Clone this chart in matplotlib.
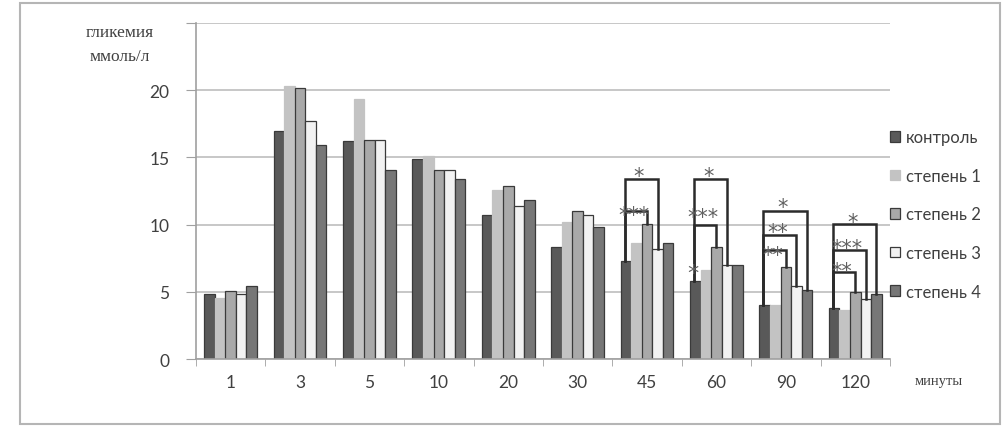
import numpy as np
import matplotlib
matplotlib.use("Agg")
import matplotlib.pyplot as plt
from matplotlib.patches import Rectangle

# time points, minutes
categories = ["1", "3", "5", "10", "20", "30", "45", "60", "90", "120"]
series_names = ["контроль", "степень 1", "степень 2", "степень 3", "степень 4"]

control = [4.8, 17.0, 16.2, 14.9, 10.7, 8.3, 7.3, 5.8, 4.0, 3.8]
stage1 = [4.55, 20.3, 19.35, 15.1, 12.6, 10.2, 8.6, 6.65, 4.0, 3.65]
stage2 = [5.05, 20.15, 16.3, 14.1, 12.9, 11.0, 10.05, 8.35, 6.85, 4.95]
stage3 = [4.8, 17.7, 16.3, 14.1, 11.4, 10.7, 8.15, 7.0, 5.45, 4.45]
stage4 = [5.4, 15.95, 14.1, 13.4, 11.8, 9.8, 8.6, 7.0, 5.15, 4.8]

# significance brackets: (group, target series, bracket height, label, label lift)
brackets = [
    (6, 3, 13.4, "*", 0.65),
    (6, 2, 11.0, "***", 0.2),
    (7, 3, 13.4, "*", 0.65),
    (7, 2, 10.0, "***", 1.0),
    (8, 4, 11.0, "*", 0.8),
    (8, 3, 9.25, "**", 0.7),
    (8, 2, 8.1, "**", 0.1),
    (9, 4, 10.05, "*", 0.6),
    (9, 3, 8.1, "***", 0.65),
    (9, 2, 6.5, "**", 0.5),
]
# lone star over the control bar at 60 min
lone_star = (7, 0, 6.9)

data = [control, stage1, stage2, stage3, stage4]
fills = ["#595959", "#c3c3c3", "#a9a9a9", "#f2f2f2", "#777777"]
edges = ["#3a3a3a", "#c3c3c3", "#3a3a3a", "#3a3a3a", "#3a3a3a"]

plt.rcParams["font.family"] = ["Lato", "DejaVu Sans"]

fig = plt.figure(figsize=(10.05, 4.35), dpi=100)
fig.patches.append(Rectangle((0.02, 0.023), 0.975, 0.967, transform=fig.transFigure,
                             fill=False, edgecolor="#b5b5b5", linewidth=1.5))
ax = fig.add_axes([0.195, 0.1724, 0.6905, 0.7724])

x = np.arange(len(categories))
w = 0.152
offsets = (np.arange(5) - 2) * w
for i, vals in enumerate(data):
    ax.bar(x + offsets[i], vals, width=w, color=fills[i], edgecolor=edges[i],
           linewidth=0.9, label=series_names[i], zorder=2)


def star(xc, yc, text, size=15):
    # DejaVu asterisk sits high above the baseline; shift so the glyph is centred on yc
    ax.annotate(text, (xc, yc), xytext=(0, -0.59 * size), textcoords="offset points",
                ha="center", va="baseline", fontsize=size, family="DejaVu Sans",
                color="#606060", zorder=4)


for g, s, h, lab, lift in brackets:
    x0 = x[g] + offsets[0] - 0.02
    x1 = x[g] + offsets[s]
    ax.plot([x0, x0, x1, x1], [data[0][g], h, h, data[s][g]], color="#2b2b2b",
            linewidth=1.8, zorder=3, solid_joinstyle="miter")
    star((x0 + x1) / 2 - 0.03, h + lift, lab)

g, s, yy = lone_star
star(x[g] + offsets[s] - 0.03, yy, "*", size=16)

ax.set_xlim(-0.5, len(categories) - 0.5)
ax.set_ylim(0, 25)
ax.set_yticks([0, 5, 10, 15, 20, 25])
ax.set_yticklabels(["0", "5", "10", "15", "20", ""])
ax.set_xticks(x)
ax.set_xticklabels(categories)
ax.set_xticks(np.arange(len(categories) + 1) - 0.5, minor=True)
ax.tick_params(axis="x", which="major", length=0, pad=11, labelsize=12.5, labelcolor="#404040")
ax.tick_params(axis="x", which="minor", length=5, color="#a0a0a0")
ax.tick_params(axis="y", length=7, color="#a0a0a0", labelsize=12.5, labelcolor="#404040", pad=12)
ax.grid(axis="y", color="#bdbdbd", linewidth=1.2, zorder=0)
ax.set_axisbelow(True)
for side in ["top", "right"]:
    ax.spines[side].set_visible(False)
for side in ["left", "bottom"]:
    ax.spines[side].set_color("#a0a0a0")
    ax.spines[side].set_linewidth(1.2)

fig.text(0.119, 0.925, "гликемия", family="Liberation Serif", fontsize=12.5,
         color="#404040", ha="center", va="center")
fig.text(0.119, 0.868, "ммоль/л", family="Liberation Serif", fontsize=12.5,
         color="#404040", ha="center", va="center")
fig.text(0.91, 0.124, "минуты", family="Liberation Serif", fontsize=10.5,
         color="#404040", ha="left", va="center")

fig.legend(loc="upper left", bbox_to_anchor=(0.886, 0.70), frameon=False,
           fontsize=12, handlelength=0.6, handleheight=0.6, handletextpad=0.35,
           labelspacing=1.35, borderpad=0, borderaxespad=0, labelcolor="#404040")

fig.savefig("out.png", dpi=100)
